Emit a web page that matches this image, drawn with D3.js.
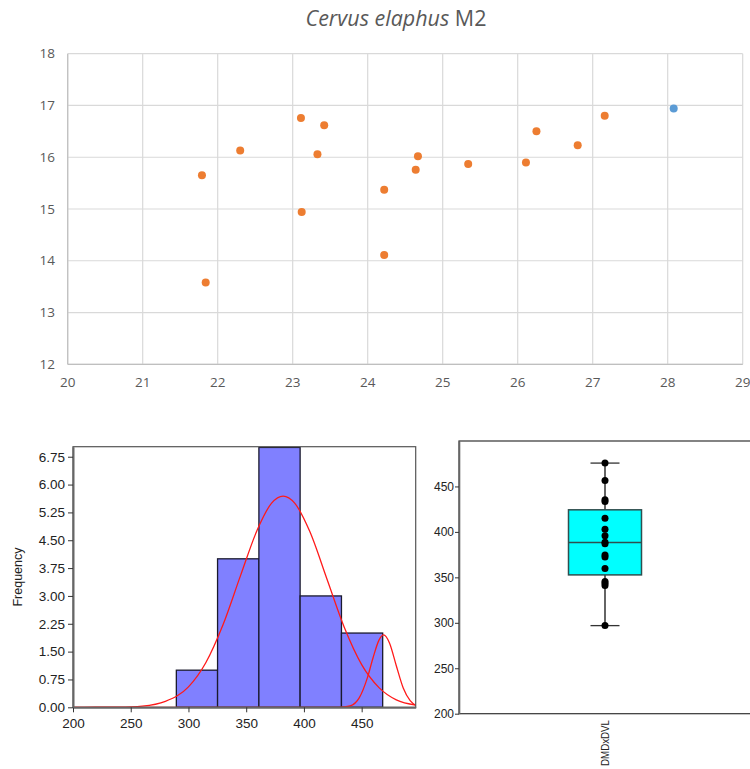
<!DOCTYPE html>
<html>
<head>
<meta charset="utf-8">
<script src="https://cdn.jsdelivr.net/npm/d3@7"></script>
<style>
  body { margin: 0; background: #fff; }
  svg { display: block; }
</style>
</head>
<body>
<svg id="chart" width="750" height="769"></svg>
<script>
// scatter: Cervus elaphus M2 (orange = sample, blue = reference specimen)
var scatterX = [21.79, 21.84, 22.30, 23.11, 23.42, 23.33, 23.12, 24.67, 24.64, 24.22, 24.22, 25.34, 26.11, 26.25, 26.80, 27.16];
var scatterY = [15.65, 13.58, 16.13, 16.76, 16.62, 16.06, 14.94, 16.02, 15.76, 15.37, 14.11, 15.87, 15.90, 16.50, 16.23, 16.80];
var refX = [28.08];
var refY = [16.94];
var scatterXTicks = [20, 21, 22, 23, 24, 25, 26, 27, 28, 29];
var scatterYTicks = [12, 13, 14, 15, 16, 17, 18];

// histogram
var binEdges = [289.5, 325.2, 361.0, 396.7, 432.5, 468.2];
var binCounts = [1, 4, 7, 3, 2];
var histXTicks = [200, 250, 300, 350, 400, 450];
var histYTicks = [0, 0.75, 1.5, 2.25, 3, 3.75, 4.5, 5.25, 6, 6.75];
// fitted curves
var fitX = [200, 220, 240, 260, 280, 300, 315, 330, 345, 360, 372, 382, 392, 405, 420, 435, 450, 465, 480, 497];
var fitY = [0, 0.001, 0.005, 0.033, 0.16, 0.55, 1.20, 2.23, 3.54, 4.81, 5.50, 5.69, 5.50, 4.74, 3.45, 2.15, 1.15, 0.53, 0.20, 0.06];
var bumpX = [200, 430, 440, 448, 455, 460, 465, 469, 474, 480, 486, 492, 497];
var bumpY = [0, 0, 0.04, 0.26, 0.80, 1.35, 1.81, 1.95, 1.74, 1.12, 0.52, 0.18, 0.05];

// box plot
var boxLabel = "DMDxDVL";
var boxPoints = [475.7, 456.6, 435.3, 433.5, 415.1, 403.0, 395.7, 388.7, 386.9, 374.7, 372.5, 359.7, 345.4, 343.5, 341.0, 296.9];
var boxQ1 = 352.7, boxMedian = 388.3, boxQ3 = 424.3, boxLow = 296.9, boxHigh = 475.7;
var boxYTicks = [200, 250, 300, 350, 400, 450];

var svg = d3.select("#chart");

// ---------- scatter ----------
var sx = d3.scaleLinear().domain([20, 29]).range([67.7, 742.7]);
var sy = d3.scaleLinear().domain([12, 18]).range([364.3, 53.7]);

var title = svg.append("text")
  .attr("x", 396).attr("y", 26)
  .attr("text-anchor", "middle")
  .style("font-family", "'Open Sans', sans-serif")
  .style("font-size", "21.5px")
  .attr("fill", "#595959");
title.append("tspan").style("font-style", "italic").text("Cervus elaphus");
title.append("tspan").text(" M2");

var sg = svg.append("g");
sg.selectAll(".vgrid").data(scatterXTicks).enter().append("line")
  .attr("x1", function(d){ return sx(d); }).attr("x2", function(d){ return sx(d); })
  .attr("y1", sy(12)).attr("y2", sy(18))
  .attr("stroke", "#d9d9d9").attr("stroke-width", 1.2);
sg.selectAll(".hgrid").data(scatterYTicks).enter().append("line")
  .attr("x1", sx(20)).attr("x2", sx(29))
  .attr("y1", function(d){ return sy(d); }).attr("y2", function(d){ return sy(d); })
  .attr("stroke", "#d9d9d9").attr("stroke-width", 1.2);
// axis lines slightly darker
sg.append("line").attr("x1", sx(20)).attr("x2", sx(29)).attr("y1", sy(12)).attr("y2", sy(12))
  .attr("stroke", "#bfbfbf").attr("stroke-width", 1.2);
sg.append("line").attr("x1", sx(20)).attr("x2", sx(20)).attr("y1", sy(12)).attr("y2", sy(18))
  .attr("stroke", "#bfbfbf").attr("stroke-width", 1.2);

sg.selectAll(".xlab").data(scatterXTicks).enter().append("text")
  .attr("x", function(d){ return sx(d); }).attr("y", 387)
  .attr("text-anchor", "middle")
  .style("font-family", "'Open Sans', sans-serif").style("font-size", "13.5px")
  .attr("fill", "#595959").text(function(d){ return d; });
sg.selectAll(".ylab").data(scatterYTicks).enter().append("text")
  .attr("x", 55).attr("y", function(d){ return sy(d) + 4.5; })
  .attr("text-anchor", "end")
  .style("font-family", "'Open Sans', sans-serif").style("font-size", "13.5px")
  .attr("fill", "#595959").text(function(d){ return d; });

sg.selectAll(".pt").data(d3.zip(scatterX, scatterY)).enter().append("circle")
  .attr("cx", function(d){ return sx(d[0]); }).attr("cy", function(d){ return sy(d[1]); })
  .attr("r", 4).attr("fill", "#ed7d31");
sg.selectAll(".ref").data(d3.zip(refX, refY)).enter().append("circle")
  .attr("cx", function(d){ return sx(d[0]); }).attr("cy", function(d){ return sy(d[1]); })
  .attr("r", 4).attr("fill", "#5b9bd5");

// ---------- histogram ----------
var hx = d3.scaleLinear().domain([200, 496.8]).range([73, 415.7]);
var hy = d3.scaleLinear().domain([0, 7.02]).range([707.3, 446.7]);
var hg = svg.append("g");

hg.append("defs").append("clipPath").attr("id", "hclip")
  .append("rect").attr("x", hx(200)).attr("y", hy(7.02))
  .attr("width", hx(496.8) - hx(200)).attr("height", hy(0) - hy(7.02));

var bins = binCounts.map(function(c, i){ return {x0: binEdges[i], x1: binEdges[i + 1], n: c}; });
hg.append("g").attr("clip-path", "url(#hclip)")
  .selectAll("rect").data(bins).enter().append("rect")
  .attr("x", function(d){ return hx(d.x0); })
  .attr("y", function(d){ return hy(d.n); })
  .attr("width", function(d){ return hx(d.x1) - hx(d.x0); })
  .attr("height", function(d){ return hy(0) - hy(d.n); })
  .attr("fill", "#8080ff").attr("stroke", "#1a1a2e").attr("stroke-width", 1.3);

var line = d3.line().x(function(d){ return hx(d[0]); }).y(function(d){ return hy(d[1]); })
  .curve(d3.curveMonotoneX);
var curves = hg.append("g").attr("clip-path", "url(#hclip)");
curves.append("path").attr("d", line(d3.zip(fitX, fitY)))
  .attr("fill", "none").attr("stroke", "#ff1a1a").attr("stroke-width", 1.3);
curves.append("path").attr("d", line(d3.zip(bumpX, bumpY)))
  .attr("fill", "none").attr("stroke", "#ff1a1a").attr("stroke-width", 1.3);

// frame
hg.append("rect").attr("x", hx(200)).attr("y", hy(7.02))
  .attr("width", hx(496.8) - hx(200)).attr("height", hy(0) - hy(7.02))
  .attr("fill", "none").attr("stroke", "#555").attr("stroke-width", 1.2);

var hxAxis = hg.append("g").attr("transform", "translate(0," + hy(0) + ")")
  .call(d3.axisBottom(hx).tickValues(histXTicks).tickSize(5).tickSizeOuter(0));
var hyAxis = hg.append("g").attr("transform", "translate(" + hx(200) + ",0)")
  .call(d3.axisLeft(hy).tickValues(histYTicks).tickFormat(d3.format(".2f")).tickSize(5).tickSizeOuter(0));
[hxAxis, hyAxis].forEach(function(a){
  a.select(".domain").attr("stroke", "#666").attr("stroke-width", 2);
  a.selectAll(".tick line").attr("stroke", "#333");
  a.selectAll("text").style("font-family", "'Liberation Sans', Arial, sans-serif")
    .style("font-size", "13.5px").attr("fill", "#222");
});
hxAxis.selectAll("text").attr("dy", "0.95em");

svg.append("text")
  .attr("transform", "translate(22,577) rotate(-90)")
  .attr("text-anchor", "middle")
  .style("font-family", "'Liberation Sans', Arial, sans-serif").style("font-size", "12.5px")
  .attr("fill", "#222").text("Frequency");

// ---------- box plot ----------
var by = d3.scaleLinear().domain([200, 500]).range([713.7, 441]);
var bx = d3.scaleBand().domain([boxLabel]).range([459, 751]);
var bg = svg.append("g");
var cx = bx(boxLabel) + bx.bandwidth() / 2;

bg.append("rect").attr("x", 459).attr("y", by(500))
  .attr("width", 292).attr("height", by(200) - by(500))
  .attr("fill", "none").attr("stroke", "#333").attr("stroke-width", 1.2);

var byAxis = bg.append("g").attr("transform", "translate(459,0)")
  .call(d3.axisLeft(by).tickValues(boxYTicks).tickSize(4).tickSizeOuter(0));
byAxis.select(".domain").attr("stroke", "#666").attr("stroke-width", 1.6);
byAxis.selectAll(".tick line").attr("stroke", "#333");
byAxis.selectAll("text").style("font-family", "'Liberation Sans', Arial, sans-serif")
  .style("font-size", "12px").attr("fill", "#222").attr("x", -5);

bg.append("line").attr("x1", cx).attr("x2", cx).attr("y1", by(boxLow)).attr("y2", by(boxHigh))
  .attr("stroke", "#111").attr("stroke-width", 1.3);
[boxLow, boxHigh].forEach(function(v){
  bg.append("line").attr("x1", cx - 14.5).attr("x2", cx + 14.5).attr("y1", by(v)).attr("y2", by(v))
    .attr("stroke", "#333").attr("stroke-width", 1.3);
});
bg.append("rect").attr("x", cx - 36.5).attr("y", by(boxQ3))
  .attr("width", 73).attr("height", by(boxQ1) - by(boxQ3))
  .attr("fill", "#00ffff").attr("stroke", "#2f4f4f").attr("stroke-width", 1.5);
bg.append("line").attr("x1", cx - 36.5).attr("x2", cx + 36.5).attr("y1", by(boxMedian)).attr("y2", by(boxMedian))
  .attr("stroke", "#2f4f4f").attr("stroke-width", 1.5);
bg.selectAll(".bp").data(boxPoints).enter().append("circle")
  .attr("cx", cx).attr("cy", function(d){ return by(d); })
  .attr("r", 3.5).attr("fill", "#000");

bg.append("text")
  .attr("transform", "translate(" + (cx + 4) + ",720) rotate(-90)")
  .attr("text-anchor", "end")
  .style("font-family", "'Liberation Sans', Arial, sans-serif").style("font-size", "10.5px")
  .attr("textLength", 46).attr("lengthAdjust", "spacingAndGlyphs")
  .attr("fill", "#222").text(boxLabel);
</script>
</body>
</html>
